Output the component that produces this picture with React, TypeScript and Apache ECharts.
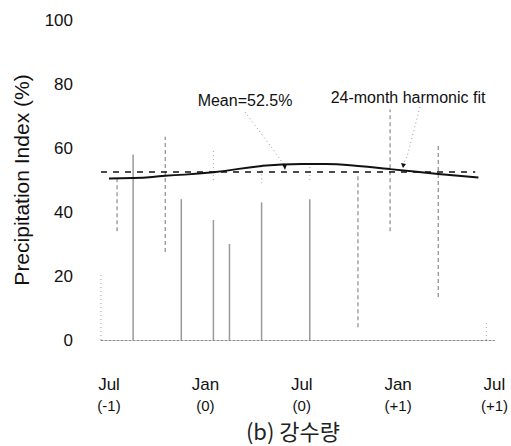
import React, { useEffect, useRef } from "react";
import * as echarts from "echarts";

// ---- data ----
const xTickValues = [0.5, 6.5, 12.5, 18.5, 24.5];
const xTickMonth = ["Jul", "Jan", "Jul", "Jan", "Jul"];
const xTickYear = ["(-1)", "(0)", "(0)", "(+1)", "(+1)"];

const yTicks = [0, 20, 40, 60, 80, 100];

// vertical bars from zero
const barMonths = [2, 5, 7, 8, 10, 13];
const barValues = [58, 44, 37.5, 30, 43, 44];

// vertical range lines (not reaching zero)
const rangeMonths = [1, 4, 16, 18, 21];
const rangeLow = [34, 27.5, 4, 34, 13.4];
const rangeHigh = [50.6, 63.5, 52, 72, 61.5];

// faint dotted segments
const faintMonths = [0, 7, 10, 13, 24];
const faintLow = [0, 50, 49, 50, 0];
const faintHigh = [21, 60, 55, 55.6, 6];

// 24-month harmonic fit
const fitMonths = [0.5, 2, 4, 7, 10, 12.5, 14, 16, 18, 21, 23.5];
const fitValues = [50.5, 50.6, 51.3, 52.4, 54.4, 55, 55, 54.4, 53.4, 51.9, 50.8];

// mean
const meanValue = 52.5;
const meanRange = [0, 23.3];

const FONT = "'Liberation Sans', Arial, Helvetica, sans-serif";

function segRender(color: string, width: number, dash: number[] | null) {
  return (params: any, api: any) => {
    const x = api.value(0);
    const lo = api.value(1);
    const hi = api.value(2);
    const p1 = api.coord([x, lo]);
    const p2 = api.coord([x, hi]);
    return {
      type: "line",
      shape: { x1: p1[0], y1: p1[1], x2: p2[0], y2: p2[1] },
      style: { stroke: color, lineWidth: width, lineDash: dash || undefined },
    };
  };
}

export default function App() {
  const ref = useRef<HTMLDivElement>(null);

  useEffect(() => {
    if (!ref.current) return;
    const chart = echarts.init(ref.current, undefined, { renderer: "svg" });

    const option: any = {
      animation: false,
      backgroundColor: "#ffffff",
      grid: { left: 101, right: 16, top: 20, bottom: 106 },
      xAxis: {
        type: "value",
        min: 0,
        max: 24.5,
        splitLine: { show: false },
        axisTick: { show: false },
        axisLine: {
          show: true,
          onZero: true,
          lineStyle: { color: "#8a8a8a", width: 1.2, type: [2, 2] },
        },
        axisLabel: {
          show: true,
          customValues: xTickValues,
          margin: 33,
          formatter: (v: number) => {
            const i = xTickValues.findIndex((t) => Math.abs(t - v) < 1e-6);
            if (i < 0) return "";
            return "{a|" + xTickMonth[i] + "}\n{b|" + xTickYear[i] + "}";
          },
          rich: {
            a: { fontFamily: FONT, fontSize: 17, lineHeight: 22, color: "#111" },
            b: { fontFamily: FONT, fontSize: 15, lineHeight: 20, color: "#111" },
          },
        },
      },
      yAxis: {
        type: "value",
        min: 0,
        max: 100,
        interval: 20,
        name: "Precipitation Index (%)",
        nameLocation: "middle",
        nameGap: 69,
        nameTextStyle: { fontFamily: FONT, fontSize: 21, color: "#111" },
        splitLine: { show: false },
        axisTick: { show: false },
        axisLine: { show: false },
        axisLabel: {
          margin: 28,
          fontFamily: FONT,
          fontSize: 17,
          color: "#111",
          formatter: (v: number) => (yTicks.indexOf(v) >= 0 ? String(v) : ""),
        },
      },
      series: [
        {
          type: "custom",
          name: "bars",
          renderItem: segRender("#9a9a9a", 1.5, null),
          data: barMonths.map((m, i) => [m, 0, barValues[i]]),
          encode: { x: 0, y: [1, 2] },
          z: 1,
        },
        {
          type: "custom",
          name: "ranges",
          renderItem: segRender("#8c8c8c", 1.2, [4, 3]),
          data: rangeMonths.map((m, i) => [m, rangeLow[i], rangeHigh[i]]),
          encode: { x: 0, y: [1, 2] },
          z: 1,
        },
        {
          type: "custom",
          name: "faint",
          renderItem: segRender("#b5b5b5", 1.2, [1, 3]),
          data: faintMonths.map((m, i) => [m, faintLow[i], faintHigh[i]]),
          encode: { x: 0, y: [1, 2] },
          z: 1,
        },
        {
          type: "line",
          name: "Mean",
          data: meanRange.map((m) => [m, meanValue]),
          symbol: "none",
          lineStyle: { color: "#111", width: 1.5, type: [6, 6] },
          z: 3,
        },
        {
          type: "line",
          name: "24-month harmonic fit",
          data: fitMonths.map((m, i) => [m, fitValues[i]]),
          smooth: true,
          symbol: "none",
          lineStyle: { color: "#111", width: 2 },
          z: 4,
        },
      ],
      graphic: [
        {
          type: "text",
          x: 245,
          y: 100,
          style: {
            text: "Mean=52.5%",
            fontFamily: FONT,
            fontSize: 16,
            fill: "#111",
            align: "center",
            verticalAlign: "middle",
          },
        },
        {
          type: "text",
          x: 408,
          y: 97,
          style: {
            text: "24-month harmonic fit",
            fontFamily: FONT,
            fontSize: 16,
            fill: "#111",
            align: "center",
            verticalAlign: "middle",
          },
        },
        {
          type: "polyline",
          shape: { points: [[245, 112], [275, 152], [284, 165]] },
          style: { stroke: "#999", lineWidth: 1, lineDash: [1, 3], fill: null },
        },
        {
          type: "polyline",
          shape: { points: [[420, 107], [407, 157], [403, 164]] },
          style: { stroke: "#999", lineWidth: 1, lineDash: [1, 3], fill: null },
        },
        {
          type: "polygon",
          shape: { points: [[282, 164], [287, 164], [285, 170]] },
          style: { fill: "#111" },
        },
        {
          type: "polygon",
          shape: { points: [[401, 163], [406, 164], [403, 168]] },
          style: { fill: "#111" },
        },
        {
          type: "text",
          x: 293,
          y: 430,
          style: {
            text: "(b) 강수량",
            fontFamily: "'Noto Sans CJK KR', 'Noto Sans', sans-serif",
            fontSize: 22,
            fill: "#222",
            align: "center",
            verticalAlign: "middle",
          },
        },
      ],
    };

    chart.setOption(option);
    return () => chart.dispose();
  }, []);

  return (
    <div
      ref={ref}
      style={{ position: "fixed", left: 0, top: 0, width: 511, height: 446 }}
    />
  );
}
